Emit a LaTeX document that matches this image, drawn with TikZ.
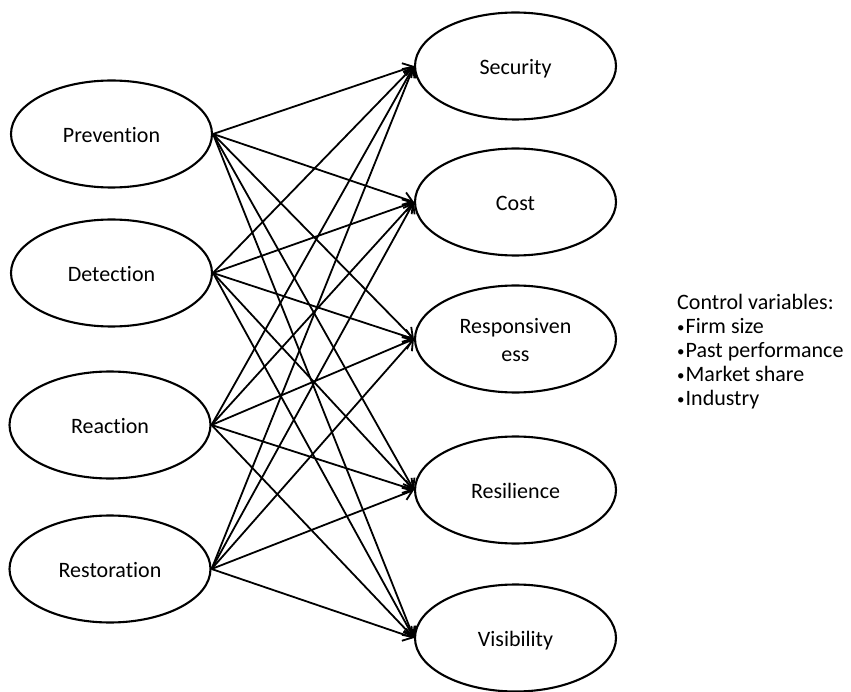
\documentclass[tikz,border=0pt]{standalone}
\usepackage{fontspec}
\setmainfont[Ligatures={NoCommon}]{Carlito}
\usetikzlibrary{arrows.meta,shapes.geometric}
\newcommand\lowtext[1]{\raisebox{-3pt}[\height][\depth]{\begin{tabular}{@{}c@{}}#1\end{tabular}}}
\newcommand\bul{\raisebox{1.6pt}{\fontsize{15}{15}\selectfont•}\hspace{1pt}}
\tikzset{
  oval/.style={ellipse, draw, line width=2.1pt, minimum width=201pt, minimum height=107pt, inner sep=0pt, font=\fontsize{22}{28}\selectfont},
  arr/.style={line width=1.8pt, -{Straight Barb[length=9pt, width=13pt, line width=1.8pt]}}
}
\begin{document}
\begin{tikzpicture}[x=1pt, y=-1pt]
\useasboundingbox (0,0) rectangle (851,692);
\node[oval] (prev) at (111.5,134) {\lowtext{Prevention}};
\node[oval] (det)  at (111.5,273) {\lowtext{Detection}};
\node[oval] (reac) at (110,425) {\lowtext{Reaction}};
\node[oval] (rest) at (110,569) {\lowtext{Restoration}};
\node[oval] (sec)  at (515.5,66) {\lowtext{Security}};
\node[oval] (cost) at (515.5,202) {\lowtext{Cost}};
\node[oval] (resp) at (515.5,339) {\lowtext{Responsiven\\ess}};
\node[oval] (resi) at (515.5,490) {\lowtext{Resilience}};
\node[oval] (vis)  at (515.5,638) {\lowtext{Visibility}};
\foreach \l in {prev,det,reac,rest}
  \foreach \r in {sec,cost,resp,resi,vis}
    \draw[arr] (\l.east) -- (\r.west);
\node[anchor=west, align=left, inner sep=0pt, font=\fontsize{22}{24}\selectfont] (ctrl) at (677,352)
  {Control variables:\\\bul Firm size\\\bul Past performance\\\bul Market share\\\bul Industry};
\end{tikzpicture}
\end{document}
